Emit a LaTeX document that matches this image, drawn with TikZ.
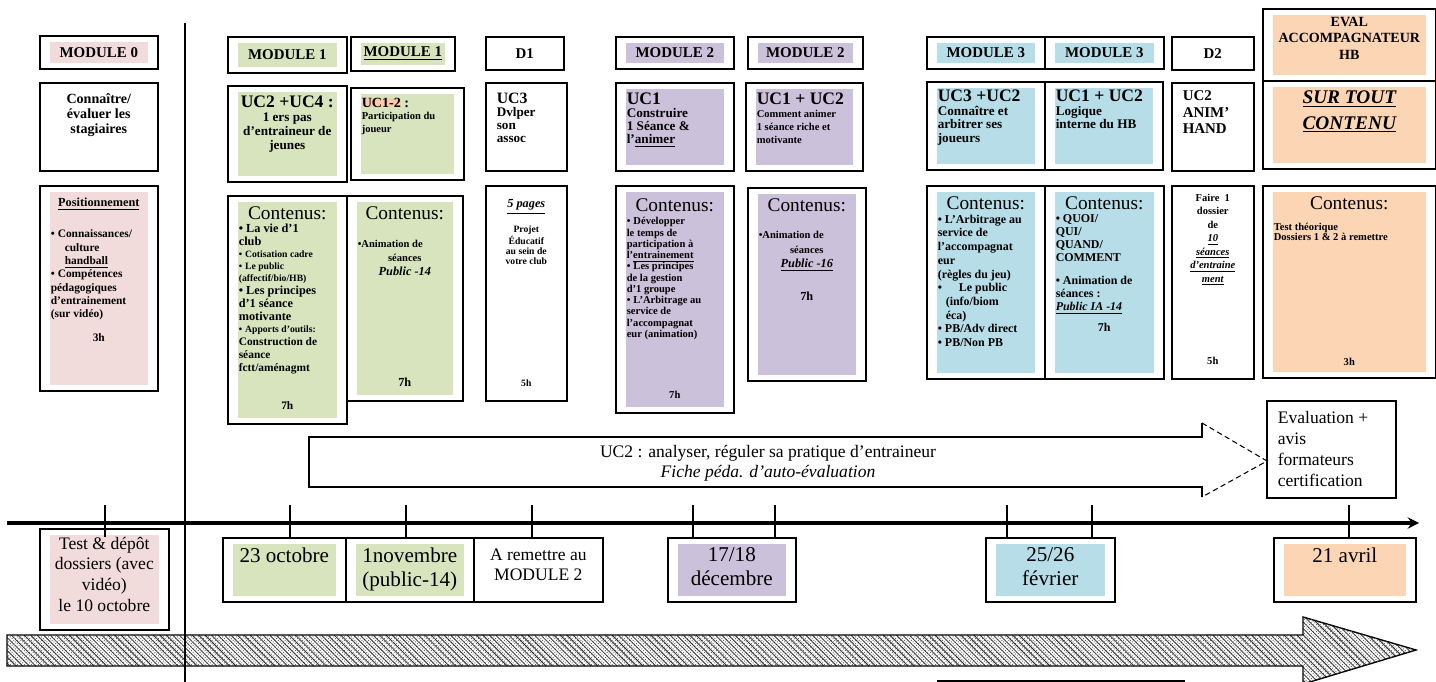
\documentclass[tikz,border=0pt]{standalone}
\usepackage{fontspec}
\setmainfont{Liberation Serif}
\usetikzlibrary{arrows, patterns, patterns.meta, calc}

\definecolor{modpink}{RGB}{242,220,219}
\definecolor{modgreen}{RGB}{216,228,190}
\definecolor{modpurple}{RGB}{204,193,218}
\definecolor{modblue}{RGB}{183,221,232}
\definecolor{modorange}{RGB}{252,213,181}
\definecolor{modsalmon}{RGB}{248,203,173}

\newdimen\px \px=0.02cm
\newcommand{\fsz}[2]{\fontsize{#1}{#2}\selectfont}
\newcommand{\cellbody}[3]{\parbox[c][\dimexpr#2\px-16\px\relax][t]{\dimexpr#1\px-22\px\relax}{#3}}
\newcommand{\itm}{\par\hangindent=9\px\hangafter=1\noindent\textbullet\hspace{3\px}}

\begin{document}
\begin{tikzpicture}[x=0.02cm, y=-0.02cm,
        cell/.style={draw, line width=0.9pt, anchor=north west, inner xsep=11*\px, inner ysep=8*\px,
            path picture={\fill[#1] ([xshift=10*\px, yshift=-6*\px]path picture bounding box.north west)
                rectangle ([xshift=-10*\px, yshift=6*\px]path picture bounding box.south east);}},
        cell/.default=white,
        lab/.style={cell=#1, inner sep=1*\px, align=center, font=\bfseries\fsz{8.5}{10}},
        lab/.default=white,
        datebox/.style={cell=#1, font=\fsz{12}{13.6}},
        datebox/.default=white,
        tick/.style={line width=0.8pt},
        timeline/.style={line width=1.8pt, ->, >=stealth}
    ]
    \useasboundingbox (0,0) rectangle (1436,682);

    % Module 0
    \node[lab=modpink, minimum width=118*\px, minimum height=33*\px] (m0lab) at (39,35) {MODULE 0};
    \node[cell] (m0uc) at (39,82) {\cellbody{118}{88}{\centering\bfseries\fsz{8}{8.4}\vspace*{3\px}Connaître/\\évaluer les\\stagiaires}};
    \node[cell=modpink] (m0cont) at (39,185) {\cellbody{118}{205}{\bfseries\centering\fsz{7}{8}\vspace*{4\px}\underline{Positionnement}\par\vspace{18\px}
        \raggedright\fsz{6.5}{7.6}
        \itm Connaissances/\\\hspace*{14\px}culture\\\hspace*{14\px}\underline{handball}
        \itm Compétences\\pédagogiques\\d’entrainement\\(sur vidéo)\par
        \vspace{10\px}\centering 3h\par}};

    % Module 1
    \node[lab=modgreen, minimum width=119*\px, minimum height=36*\px] (m1alab) at (227,36) {MODULE 1};
    \node[lab=modgreen, minimum width=104*\px, minimum height=34*\px] (m1blab) at (350,36) {\underline{MODULE 1}};
    \node[cell=modgreen] (m1auc) at (227,85) {\cellbody{119}{96}{\centering\bfseries\vspace*{2\px}\fsz{10}{11}UC2 +UC4 :\\\fsz{7.5}{8}1 ers pas\\d’entraineur de\\jeunes}};
    \node[cell=modgreen] (m1buc) at (350,87) {\cellbody{113}{92}{\raggedright\bfseries\vspace*{2\px}{\fsz{8}{9}{\fboxsep=0pt\colorbox{modsalmon}{UC1-2}} :}\\\fsz{6}{7.2}Participation du\\joueur}};
    \node[cell=modgreen] (m1acont) at (227,195) {\cellbody{119}{228}{\vspace*{3\px}\centering\fsz{11}{12}Contenus:\par
        \raggedright\bfseries
        \fsz{7}{7.4}\itm La vie d’1\\club
        \par\fsz{5.5}{6.8}\itm Cotisation cadre
        \itm Le public\\(affectif/bio/HB)
        \par\fsz{7}{7.4}\itm Les principes\\d’1 séance\\motivante
        \par\fsz{5.5}{6.8}\itm Apports d’outils:
        \par\noindent\fsz{6.5}{7.4}Construction de\\séance\\fctt/aménagmt
        \par\vfill\centering 7h\par\vspace{6\px}}};
    \node[cell=modgreen] (m1bcont) at (346,195) {\cellbody{116}{205}{\vspace*{3\px}\centering\fsz{11}{12}Contenus:\par\vspace{14\px}
        \bfseries\fsz{6}{8}\raggedright\textbullet Animation de\par\centering séances\\\fsz{7}{8}\textit{Public -14}\par
        \vfill 7h\par\vspace{6\px}}};

    % D1
    \node[lab, minimum width=78*\px, minimum height=33*\px] (d1lab) at (485,36) {D1};
    \node[cell] (d1uc) at (485,82) {\cellbody{81}{88}{\raggedright\bfseries\vspace*{2\px}\fsz{9}{10}UC3\\\fsz{7.5}{7.4}Dvlper\\son\\assoc}};
    \node[cell] (d1cont) at (485,185) {\cellbody{81}{215}{\centering\bfseries\vspace*{6\px}\fsz{7}{8}\underline{\textit{5 pages}}\par\vspace{10\px}
        \fsz{5.5}{5.7}Projet\\Éducatif\\au sein de\\votre club\par
        \vfill 5h\par\vspace{6\px}}};

    % Module 2
    \node[lab=modpurple, minimum width=118*\px, minimum height=32*\px] (m2alab) at (615,36) {MODULE 2};
    \node[lab=modpurple, minimum width=115*\px, minimum height=32*\px] (m2blab) at (747,36) {MODULE 2};
    \node[cell=modpurple] (m2auc) at (615,82) {\cellbody{118}{88}{\raggedright\bfseries\vspace*{2\px}\fsz{10}{11}UC1\\\fsz{7.5}{7.4}Construire\\1 Séance \&\\l’\underline{animer}}};
    \node[cell=modpurple] (m2buc) at (745,82) {\cellbody{117}{88}{\raggedright\bfseries\vspace*{2\px}\fsz{10}{11}UC1 + UC2\\\fsz{6}{7.4}Comment animer\\1 séance riche et\\motivante}};
    \node[cell=modpurple] (m2acont) at (615,185) {\cellbody{118}{227}{\vspace*{5\px}\centering\fsz{11}{12}Contenus:\par\vspace{2\px}
        \raggedright\bfseries\fsz{6}{6.4}
        \itm Développer\\le temps de\\participation à\\l’\underline{entrainement}
        \itm Les principes\\de la gestion\\d’1 groupe
        \itm L’Arbitrage au\\service de\\l’accompagnat\\eur (animation)
        \par\vfill\centering 7h\par\vspace{6\px}}};
    \node[cell=modpurple] (m2bcont) at (747,187) {\cellbody{118}{193}{\vspace*{3\px}\centering\fsz{11}{12}Contenus:\par\vspace{12\px}
        \bfseries\fsz{6}{8.4}\raggedright\textbullet Animation de\par\centering séances\\\fsz{7}{8.4}\underline{\textit{Public -16}}\par
        \vspace{18\px}7h\par}};

    % Module 3
    \node[lab=modblue, minimum width=118*\px, minimum height=32*\px] (m3alab) at (926,36) {MODULE 3};
    \node[lab=modblue, minimum width=119*\px, minimum height=32*\px] (m3blab) at (1044,36) {MODULE 3};
    \node[cell=modblue] (m3auc) at (926,81) {\cellbody{118}{88}{\raggedright\bfseries\fsz{10}{11}UC3 +UC2\\\fsz{7.5}{7.8}Connaître et\\arbitrer ses\\joueurs}};
    \node[cell=modblue] (m3buc) at (1044,81) {\cellbody{118}{88}{\raggedright\bfseries\fsz{10}{11}UC1 + UC2\\\fsz{7.5}{7.8}Logique\\interne du HB}};
    \node[cell=modblue] (m3acont) at (926,185) {\cellbody{118}{193}{\vspace*{3\px}\centering\fsz{11}{12}Contenus:\par
        \raggedright\bfseries\fsz{6.8}{7.8}
        \itm L’Arbitrage au\\service de\\l’accompagnat\\eur\\(règles du jeu)
        \itm\hspace*{14\px}Le public\\\hspace*{8\px}(info/biom\\\hspace*{8\px}éca)
        \itm PB/Adv direct
        \itm PB/Non PB\par}};
    \node[cell=modblue] (m3bcont) at (1044,185) {\cellbody{119}{193}{\vspace*{3\px}\centering\fsz{11}{12}Contenus:\par
        \raggedright\bfseries\fsz{6.8}{7.4}
        \itm QUOI/\par\noindent QUI/\\QUAND/\\COMMENT\par\vspace{10\px}
        \itm Animation de\\séances :\\\underline{\textit{Public IA -14}}\par\vspace{8\px}
        \centering 7h\par}};

    % D2
    \node[lab, minimum width=82*\px, minimum height=33*\px] (d2lab) at (1171,36) {D2};
    \node[cell] (d2uc) at (1171,82) {\cellbody{82}{88}{\raggedright\bfseries\fsz{8.5}{9.4}UC2\\ANIM’\\HAND}};
    \node[cell] (d2cont) at (1171,185) {\cellbody{82}{193}{\centering\bfseries\fsz{6}{7.7}Faire\enspace 1\\dossier\\de\\\itshape\underline{10}\\\underline{séances}\\\underline{d’entraine}\\\underline{ment}\par
        \vfill\upshape 5h\par\vspace{6\px}}};

    % Evaluation
    \node[cell=modorange] (evlab) at (1262,8) {\cellbody{173}{72}{\centering\bfseries\fsz{8}{9.4}EVAL\\ACCOMPAGNATEUR\\HB}};
    \node[cell=modorange] (evuc) at (1262,80) {\cellbody{173}{88}{\centering\bfseries\itshape\fsz{11}{14.5}\vspace*{2\px}\underline{SUR TOUT}\\\underline{CONTENU}}};
    \node[cell=modorange] (evcont) at (1262,185) {\cellbody{173}{192}{\vspace*{3\px}\centering\fsz{11}{12}Contenus:\par\vspace{10\px}
        \raggedright\bfseries\fsz{6}{6}Test théorique\\Dossiers 1 \& 2 à remettre\par
        \vfill\centering 3h\par\vspace{4\px}}};
    \node[cell, font=\fsz{10}{11.8}] (evalbox) at (1266,400) {\cellbody{129}{97}{\raggedright\vspace*{3\px}Evaluation +\\avis\\formateurs\\certification}};

    % UC2 arrow
    \draw[line width=0.8pt] (1202,497) -- (1202,487) -- (309,487) -- (309,437) -- (1202,437) -- (1202,423);
    \draw[line width=0.6pt, densely dashed] (1202,423) -- (1267,461) -- (1202,497);
    \node[font=\fsz{10}{11.5}, align=center] (uc2) at (768,463) {UC2 : analyser, réguler sa pratique d’entraineur\\\textit{Fiche péda. d’auto-évaluation}};

    % Dates
    \node[cell=modpink, font=\fsz{10}{11.8}] (test) at (39,528) {\cellbody{129}{101}{\centering Test \& dépôt\\dossiers (avec\\vidéo)\\le 10 octobre}};
    \node[datebox=modgreen] (d2310) at (222,537) {\cellbody{123}{64}{\centering\vspace*{2\px}23 octobre}};
    \node[datebox=modgreen] (d1nov) at (345,537) {\cellbody{128}{64}{\centering\vspace*{2\px}1novembre\\(public-14)}};
    \node[datebox, font=\fsz{10}{11.4}] (drem) at (473,537) {\cellbody{129}{64}{\centering\vspace*{3\px}A remettre au\\MODULE 2}};
    \node[datebox=modpurple] (d1718) at (667,537) {\cellbody{128}{64}{\centering\vspace*{2\px}17/18\\décembre}};
    \node[datebox=modblue] (d2526) at (985,537) {\cellbody{129}{64}{\centering\vspace*{2\px}25/26\\février}};
    \node[datebox=modorange] (d21avr) at (1273,537) {\cellbody{142}{64}{\centering\vspace*{2\px}21 avril}};

    % Timeline
    \coordinate (tl0) at (7,523);
    \coordinate (tl1) at (1419,523);
    \draw[timeline] (tl0) -- (tl1);
    \coordinate (tick0) at (105,505);
    \draw[tick] (tick0) -- ([yshift=-9*\px]tick0 |- test.north);
    \foreach \tx/\bx [count=\i] in {290/d2310, 406/d1nov, 532/drem, 693/d1718, 775/d1718, 1007/d2526, 1092/d2526, 1349/d21avr}{
        \coordinate (tick\i) at (\tx,505);
        \draw[tick] (tick\i) -- (tick\i |- \bx.north);
    }

    % Hatched arrow
    \draw[line width=0.8pt, pattern={Lines[angle=-45, distance=2.6pt, line width=0.45pt]}, pattern color=black!85,
        postaction={pattern={Dots[distance=1.4pt, radius=0.4pt, angle=45]}, pattern color=black!60}]
        (7,635) -- (1303,635) -- (1303,617) -- (1416,650) -- (1303,684) -- (1303,666) -- (7,666) -- cycle;
    \node[draw, line width=0.9pt, anchor=north west, minimum width=246*\px, minimum height=40*\px] (note) at (937,680) {};

    % Divider
    \coordinate (div0) at (185,23);
    \coordinate (div1) at (185,682);
    \draw[line width=0.8pt] (div0) -- (div1);
\end{tikzpicture}
\end{document}
